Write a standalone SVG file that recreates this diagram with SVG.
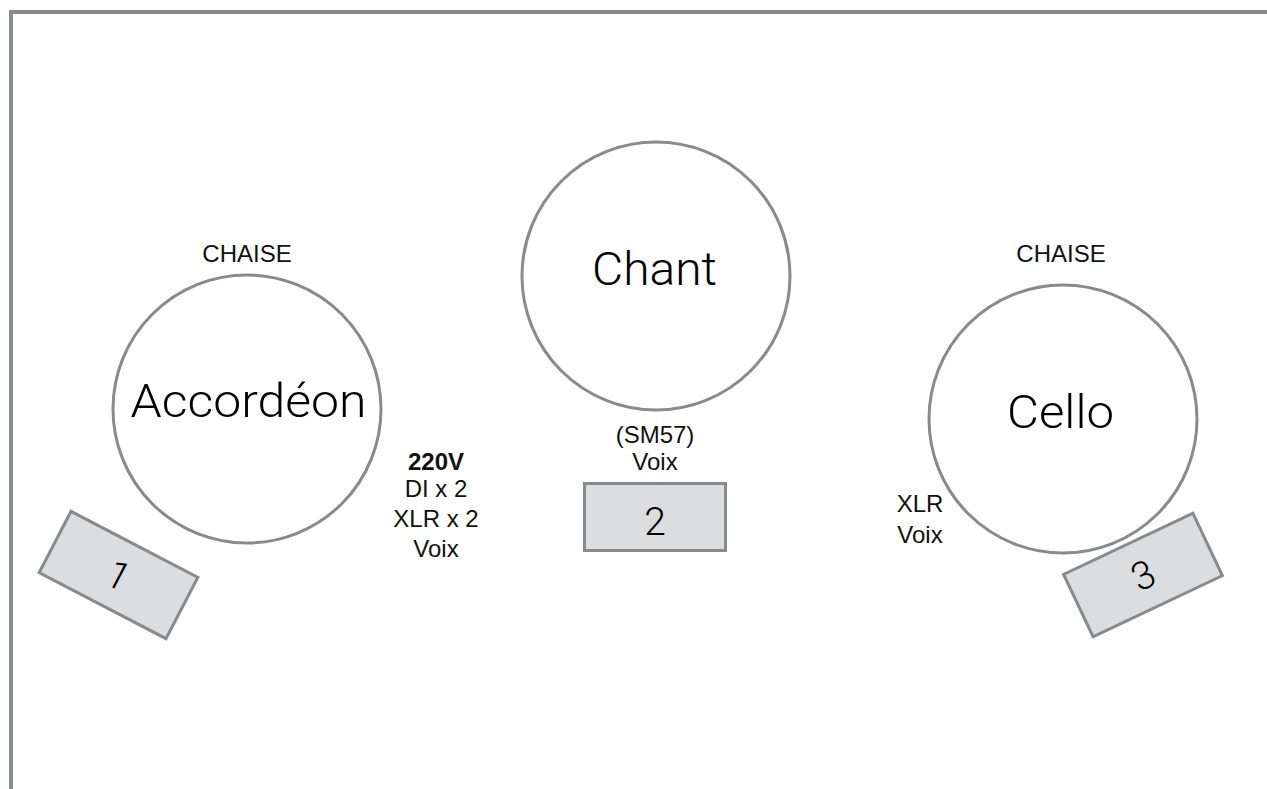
<svg xmlns="http://www.w3.org/2000/svg" width="1267" height="789" viewBox="0 0 1267 789">
<style>
.ln{fill:none;stroke:#898a8d;stroke-width:4}
.circ{fill:#fff;stroke:#898a8d;stroke-width:3}
.box{fill:#dcdddf;stroke:#898a8d;stroke-width:3}
text{font-family:"Liberation Sans",Arial,sans-serif;fill:#111;text-anchor:middle}
.big{font-family:Roboto,"Liberation Sans",sans-serif;font-weight:300;font-size:47px;fill:#000}
.sm{font-size:24px}
.num{font-family:Roboto,"Liberation Sans",sans-serif;font-weight:300;font-size:39px;fill:#000}
.b{font-weight:bold}
</style>
<rect width="1267" height="789" fill="#fff"/>
<g id="border">
<path class="ln" d="M11 789 V12 H1267"/>
</g>
<g id="connectors"></g>
<g id="chaise-left"><text class="sm" x="247" y="262">CHAISE</text></g>
<g id="chaise-right"><text class="sm" x="1061" y="262">CHAISE</text></g>
<g id="accordeon">
<circle class="circ" cx="247" cy="409" r="134"/>
<text class="big" x="248.5" y="417" textLength="236" lengthAdjust="spacingAndGlyphs">Accordéon</text>
</g>
<g id="chant">
<circle class="circ" cx="656" cy="276" r="134"/>
<text class="big" x="654.5" y="285" textLength="125" lengthAdjust="spacingAndGlyphs">Chant</text>
</g>
<g id="cello">
<circle class="circ" cx="1063" cy="419" r="134"/>
<text class="big" x="1060.5" y="428" textLength="107" lengthAdjust="spacingAndGlyphs">Cello</text>
</g>
<g id="labels-accordeon">
<text class="sm b" x="436" y="470">220V</text>
<text class="sm" x="436" y="497">DI x 2</text>
<text class="sm" x="436" y="527">XLR x 2</text>
<text class="sm" x="436" y="557">Voix</text>
</g>
<g id="labels-chant">
<text class="sm" x="655" y="443">(SM57)</text>
<text class="sm" x="655" y="470">Voix</text>
</g>
<g id="labels-cello">
<text class="sm" x="920" y="512">XLR</text>
<text class="sm" x="920" y="543">Voix</text>
</g>
<g id="box1" transform="translate(118.5 575) rotate(27.5)">
<rect class="box" x="-71.5" y="-34.5" width="143" height="69"/>
<text class="num" x="0" y="14">1</text>
</g>
<g id="box2">
<rect class="box" x="584.5" y="483.5" width="141" height="67"/>
<text class="num" x="655" y="535">2</text>
</g>
<g id="box3" transform="translate(1143 575) rotate(-25.3)">
<rect class="box" x="-71.5" y="-34.5" width="143" height="69"/>
<text class="num" x="0" y="14">3</text>
</g>
</svg>
